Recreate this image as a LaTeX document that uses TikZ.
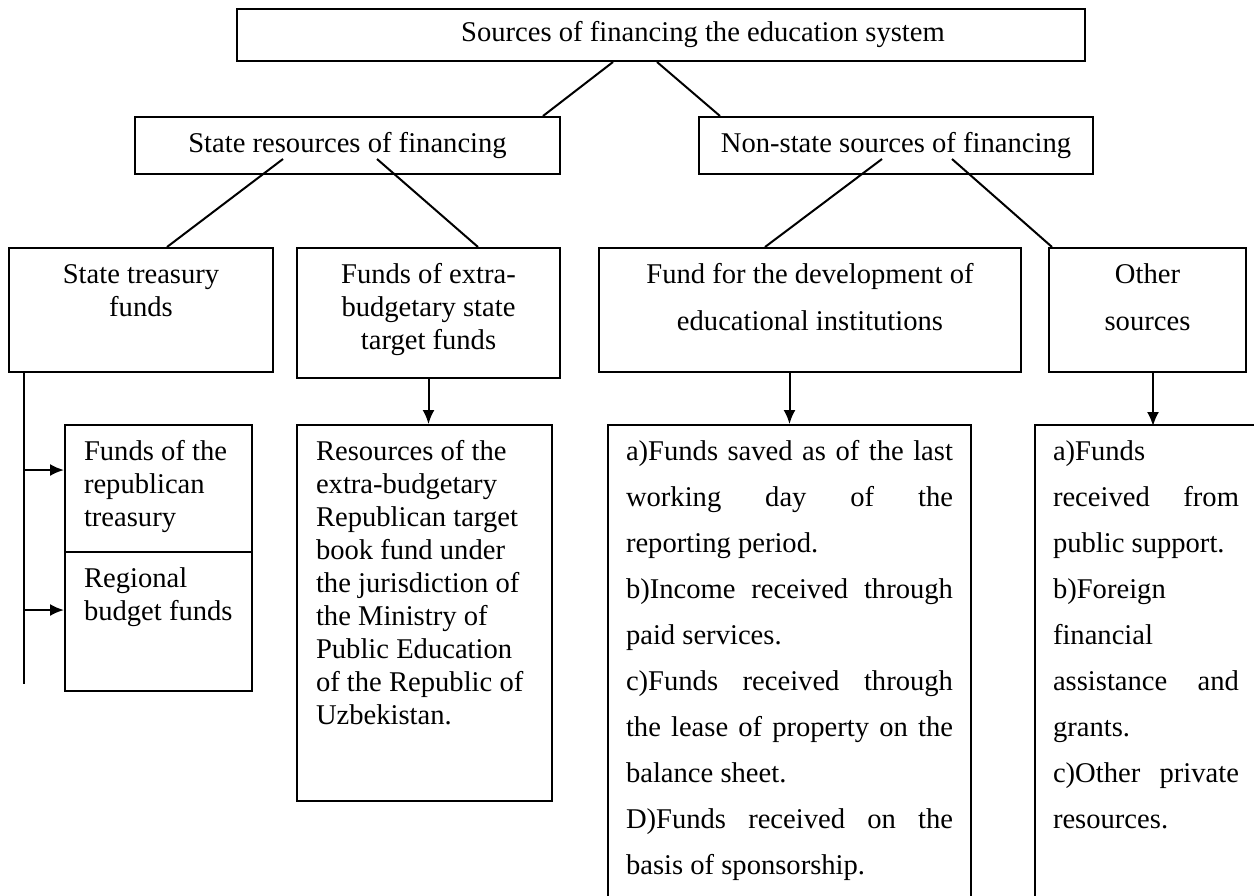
\documentclass[tikz,border=0pt]{standalone}
\usepackage{fontspec}
\setmainfont{Liberation Serif}
\usetikzlibrary{arrows.meta,calc}
\tolerance=10000
\hbadness=10000
\tikzstyle{block}=[draw, line width=1pt
%,fill=white
,inner sep=0pt
,anchor=north west
]
\tikzstyle{head}=[block, align=center]
\tikzstyle{edge}=[draw, line width=1pt, -]
\tikzstyle{arrow}=[draw, line width=1pt, -{Latex[length=7pt,width=6pt]}]
% top aligned text in a box of fixed size
\newcommand{\topbox}[4]{\parbox[c][#2][t]{#1}{#3\rule{0pt}{17.5pt}#4}}

\begin{document}
\begin{tikzpicture}[x=0.5pt, y=-0.5pt, font=\fontsize{14.3}{16.5}\selectfont]
    \useasboundingbox (0,0) rectangle (1254,895);
    % First we draw the heads
    \node[head, minimum width=424pt, minimum height=26pt] (sources) at (236,8) {\hspace*{42pt}Sources of financing the education system};
    \node[head, minimum width=212.5pt, minimum height=28.5pt] (state) at (134,116) {State resources of financing};
    \node[head, minimum width=197pt, minimum height=28.5pt] (nonstate) at (698,116) {Non-state sources of financing};

    % Then the kinds of funds
    \node[block] (treasury) at (8,247) {\topbox{132pt}{62pt}{\centering}{State treasury\\funds}};
    \node[block] (extra) at (296,247) {\topbox{131.5pt}{65pt}{\centering}{Funds of extra-\\budgetary state\\target funds}};
    \node[block] (development) at (598,247) {\topbox{211pt}{62pt}{\centering\fontsize{14.3}{23.5}\selectfont}{Fund for the development of\\educational institutions}};
    \node[block] (other) at (1048,247) {\topbox{98.5pt}{62pt}{\centering\fontsize{14.3}{23.5}\selectfont}{Other\\sources}};

    % Contents of the funds
    \node[block, inner xsep=9.5pt] (republican) at (64,424) {\topbox{74.5pt}{63.5pt}{\raggedright}{Funds of the\\republican\\treasury}};
    \node[block, inner xsep=9.5pt] (regional) at (64,551) {\topbox{74.5pt}{69.5pt}{\raggedright}{Regional\\budget funds}};
    \node[block, inner xsep=9.5pt] (resources) at (296,424) {\topbox{108.5pt}{188pt}{\raggedright}{Resources of the\\extra-budgetary\\Republican target\\book fund under\\the jurisdiction of\\the Ministry of\\Public Education\\of the Republic of\\Uzbekistan.}};
    \node[block, inner xsep=9pt] (fundlist) at (607,424) {\topbox{163.5pt}{250pt}{\fontsize{14.3}{23}\selectfont}{a)Funds saved as of the last\linebreak working day of the\linebreak reporting period.\par
        b)Income received through\linebreak paid services.\par
        c)Funds received through\linebreak the lease of property on the\linebreak balance sheet.\par
        D)Funds received on the\linebreak basis of sponsorship.}};
    \node[block, inner xsep=9pt] (otherlist) at (1034,424) {\topbox{93pt}{250pt}{\fontsize{14.3}{23}\selectfont}{a)Funds\linebreak received from\linebreak public support.\par
        b)Foreign\linebreak financial\linebreak assistance and\linebreak grants.\par
        c)Other private\linebreak resources.}};

    % Connect boxes with edges
    \path[edge] ($(sources.south west)+(377,0)$) -- ($(state.north west)+(409,0)$);
    \path[edge] ($(sources.south west)+(421,0)$) -- ($(nonstate.north west)+(22,0)$);
    \foreach \source/\sx/\dest/\dx in {state/149/treasury/159, state/243/extra/182, nonstate/184/development/167, nonstate/254/other/4}
        \path[edge] ($(\source.south west)+(\sx,-16)$) -- ($(\dest.north west)+(\dx,0)$);

    % Arrows down to the contents
    \coordinate (trunkend) at ($(treasury.south west)+(16,311)$);
    \path[edge] ($(treasury.south west)+(16,0)$) -- (trunkend);
    \foreach \dest/\dy in {republican/46, regional/59}
        \path[arrow] ($(\dest.north west)+(-40,\dy)$) -- ($(\dest.north west)+(0,\dy)$);
    \path[arrow] (extra.south) -- (extra.south |- resources.north);
    \path[arrow] (development.south -| fundlist.north) -- (fundlist.north);
    \path[arrow] ($(other.south west)+(105,0)$) -- ($(other.south west)+(105,53)$);
\end{tikzpicture}
\end{document}
